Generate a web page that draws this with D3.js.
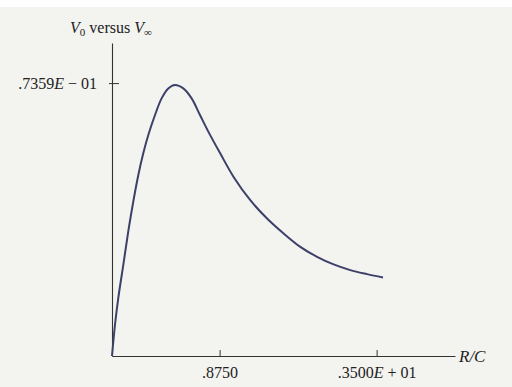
<!DOCTYPE html>
<html>
<head>
<meta charset="utf-8">
<script src="https://cdn.jsdelivr.net/npm/d3@7"></script>
<style>
  body { margin: 0; background: #ffffff; }
  text { font-family: "Liberation Serif", "DejaVu Serif", serif; fill: #222; }
</style>
</head>
<body>
<div id="graphed"></div>
<script>
// curve: R/C against V0
var rcValues = [-0.924, -0.874, -0.819, -0.735, -0.652, -0.568, -0.484, -0.401, -0.317, -0.205,
                -0.095, 0.017, 0.129, 0.268, 0.407, 0.547, 0.686, 0.887, 1.109, 1.388,
                1.668, 1.945, 2.224, 2.504, 2.781, 3.060, 3.340, 3.607];
var v0Values = [0.0, 0.00843, 0.01562, 0.02458, 0.03358, 0.04166, 0.04882, 0.05466, 0.05959, 0.06498,
                0.06947, 0.07216, 0.07310, 0.07216, 0.06947, 0.06498, 0.06051, 0.05458, 0.04828, 0.04201,
                0.03708, 0.03304, 0.02943, 0.02674, 0.02469, 0.02316, 0.02208, 0.02119];
var xTicks = [0.875, 3.5];
var xTickLabels = [[".8750"], [".3500", "E", " + 01"]];
var yTicks = [0.07359];
var yTickLabels = [[".7359", "E", " \u2212 01"]];

var data = rcValues.map(function(d, i) { return {rc: d, v: v0Values[i]}; });

// set the dimensions and margins of the graph
var margin = {top: 43, right: 57, bottom: 31, left: 112},
    width = 512 - margin.left - margin.right,
    height = 387 - margin.top - margin.bottom;

var x = d3.scaleLinear().domain([-0.924, 4.81]).range([0, width]);
var y = d3.scaleLinear().domain([0, 0.0844]).range([height, 0]);

var svgRoot = d3.select("#graphed").append("svg")
    .attr("width", 512)
    .attr("height", 387);

// paper background
svgRoot.append("rect")
    .attr("width", 512).attr("height", 387)
    .attr("fill", "#f3f3ef");
svgRoot.append("rect")
    .attr("width", 512).attr("height", 7)
    .attr("fill", "#ffffff");

var svg = svgRoot.append("g")
    .attr("transform", "translate(" + margin.left + "," + margin.top + ")");

// x axis: ticks point up, labels below
var xAxis = svg.append("g")
    .attr("transform", "translate(0," + height + ")")
    .call(d3.axisBottom(x).tickValues(xTicks).tickSizeInner(-6).tickSizeOuter(0).tickPadding(11));

// y axis: tick crosses the line
var yAxis = svg.append("g")
    .call(d3.axisLeft(y).tickValues(yTicks).tickSizeInner(-7).tickSizeOuter(0).tickPadding(15));

[xAxis, yAxis].forEach(function(ax) {
  ax.select(".domain").attr("stroke", "#333").attr("stroke-width", 1.1);
  ax.selectAll(".tick line").attr("stroke", "#333");
  ax.selectAll("text").attr("font-size", 16).attr("fill", "#1e1e1e")
    .style("font-family", "'Liberation Serif', serif");
});
yAxis.selectAll(".tick line").attr("x1", -3);

function fillParts(sel, labels) {
  sel.each(function(d, i) {
    var t = d3.select(this).text("");
    labels[i].forEach(function(p, j) {
      t.append("tspan").text(p).attr("font-style", j === 1 ? "italic" : "normal");
    });
  });
}
fillParts(xAxis.selectAll(".tick text"), xTickLabels);
fillParts(yAxis.selectAll(".tick text"), yTickLabels);

// axis name
svg.append("text")
    .attr("x", width + 4)
    .attr("y", height + 6)
    .attr("font-size", 17)
    .attr("font-style", "italic")
    .text("R/C");

// title
var title = svgRoot.append("text")
    .attr("x", 70)
    .attr("y", 33)
    .attr("font-size", 16);
title.append("tspan").attr("font-style", "italic").text("V");
title.append("tspan").attr("font-size", 11).attr("dy", 3).text("0");
title.append("tspan").attr("dy", -3).text(" versus ");
title.append("tspan").attr("font-style", "italic").text("V");
title.append("tspan").attr("font-size", 11).attr("dy", 3).text("\u221e");

// the curve
var valueline = d3.line()
    .curve(d3.curveCatmullRom.alpha(0.5))
    .x(function(d) { return x(d.rc); })
    .y(function(d) { return y(d.v); });

svg.append("path")
    .datum(data)
    .attr("fill", "none")
    .attr("stroke", "#3d4068")
    .attr("stroke-width", 2)
    .attr("d", valueline);
</script>
</body>
</html>
